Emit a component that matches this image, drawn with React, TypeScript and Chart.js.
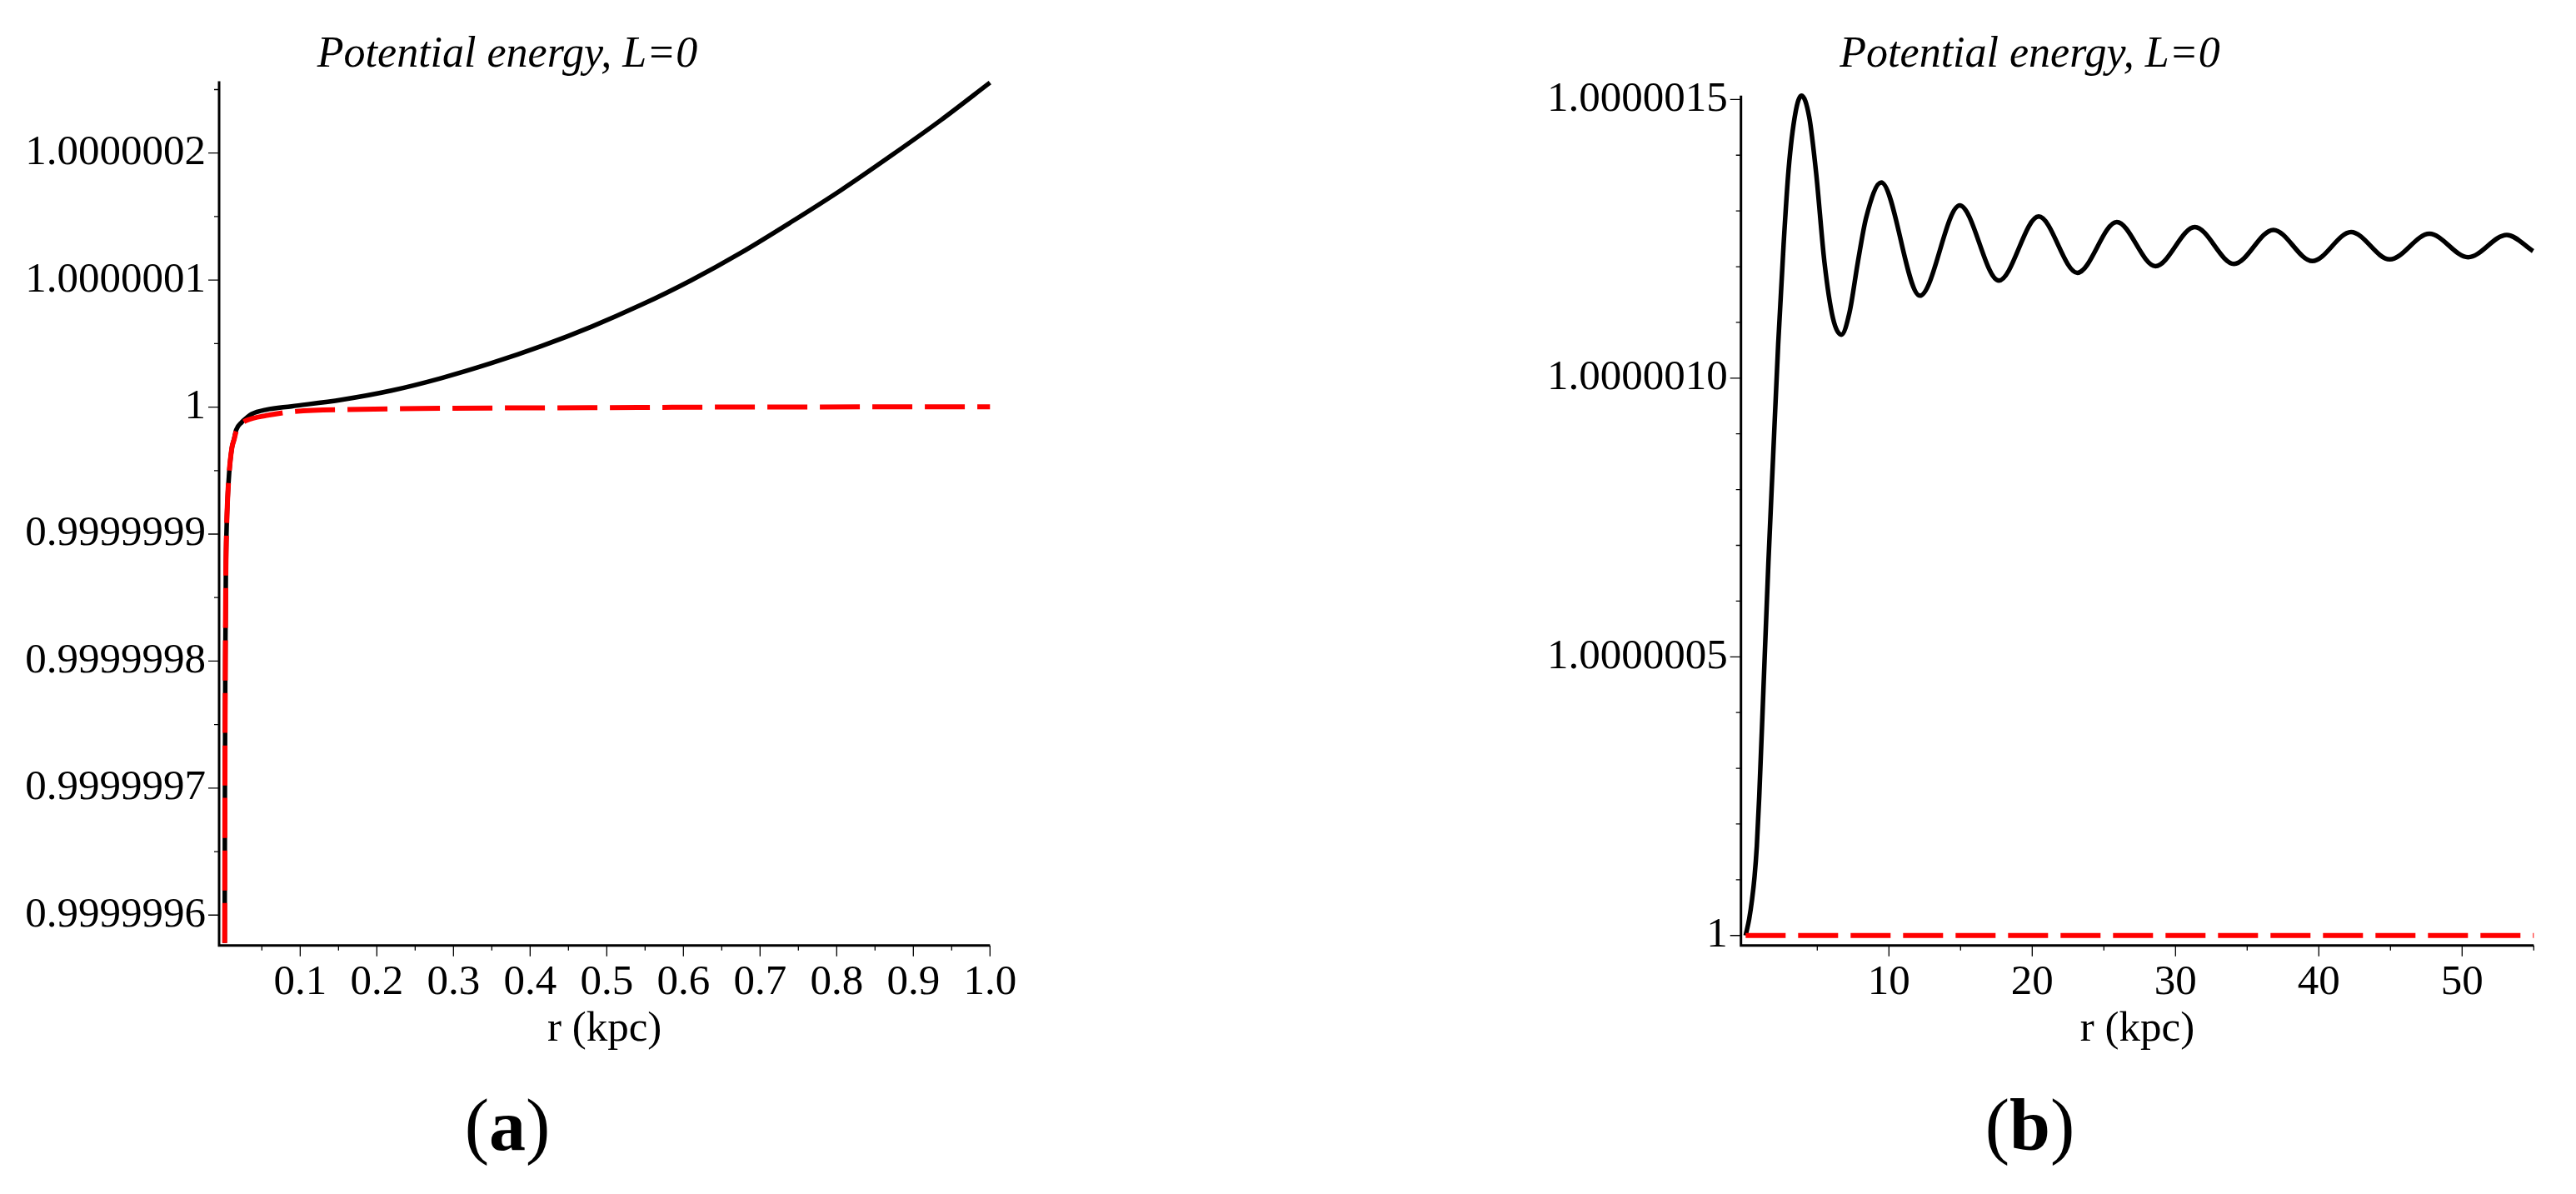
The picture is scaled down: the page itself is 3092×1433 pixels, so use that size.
import React, { useEffect, useRef } from 'react';
import { Chart, registerables } from 'chart.js';

Chart.register(...registerables);

const FONT = '"Liberation Serif", "Times New Roman", serif';

// ---------------- Panel (a) data ----------------
const rA_black = [0.0015, 0.0018, 0.0023, 0.003, 0.004, 0.005, 0.0073, 0.0109, 0.0138, 0.0165, 0.0236, 0.03, 0.0366, 0.056, 0.0887, 0.154, 0.219, 0.284, 0.349, 0.4146, 0.48, 0.545, 0.61, 0.675, 0.74, 0.806, 0.871, 0.936, 1.0];
const uA_black = [0.999999578, 0.9999997, 0.9999998, 0.99999987, 0.999999905, 0.999999924, 0.999999948, 0.999999968, 0.999999975, 0.999999982, 0.999999988, 0.9999999915, 0.9999999945, 0.999999998, 1.0000000006, 1.0000000058, 1.000000013, 1.0000000228, 1.0000000345, 1.000000048, 1.0000000633, 1.0000000805, 1.0000000998, 1.0000001215, 1.0000001455, 1.000000171, 1.000000198, 1.000000226, 1.0000002555];
const rA_red = [0.0015, 0.0018, 0.0023, 0.003, 0.004, 0.005, 0.0073, 0.0109, 0.0138, 0.0165, 0.0236, 0.03, 0.056, 0.089, 0.179, 0.299, 0.479, 0.658, 1.0];
const uA_red = [0.999999578, 0.9999997, 0.9999998, 0.99999987, 0.999999905, 0.999999924, 0.999999948, 0.999999968, 0.9999999745, 0.999999981, 0.999999987, 0.9999999895, 0.9999999934, 0.9999999963, 0.9999999982, 0.9999999991, 0.9999999995, 1.0, 1.0000000002];
const yTicksA = [0.9999996, 0.9999997, 0.9999998, 0.9999999, 1.0, 1.0000001, 1.0000002];
const yLabelsA = ['0.9999996', '0.9999997', '0.9999998', '0.9999999', '1', '1.0000001', '1.0000002'];
const yMinorA = [0.99999965, 0.99999975, 0.99999985, 0.99999995, 1.00000005, 1.00000015, 1.00000025];
const xTicksA = [0.1, 0.2, 0.3, 0.4, 0.5, 0.6, 0.7, 0.8, 0.9, 1.0];
const xLabelsA = ['0.1', '0.2', '0.3', '0.4', '0.5', '0.6', '0.7', '0.8', '0.9', '1.0'];
const xMinorA = [0.05, 0.15, 0.25, 0.35, 0.45, 0.55, 0.65, 0.75, 0.85, 0.95];

// ---------------- Panel (b) data ----------------
const rB_black = [0, 0.25, 0.45, 0.62, 0.78, 0.95, 1.24, 1.59, 1.92, 2.27, 2.65, 3.0, 3.47, 3.9, 4.44, 4.92, 5.5, 6.09, 6.68, 7.25, 7.83, 8.41, 9.46, 12.16, 14.94, 17.67, 20.45, 23.15, 25.9, 28.6, 31.35, 34.08, 36.83, 39.55, 42.25, 44.95, 47.72, 50.42, 53.12, 54.95];
const uB_black = [1.0, 1.00000003, 1.000000065, 1.000000105, 1.00000016, 1.00000025, 1.00000044, 1.00000067, 1.00000086, 1.00000106, 1.00000124, 1.000001375, 1.000001475, 1.000001507, 1.000001468, 1.000001368, 1.000001208, 1.000001108, 1.000001078, 1.000001118, 1.000001208, 1.000001288, 1.000001351, 1.000001148, 1.00000131, 1.000001175, 1.00000129, 1.000001189, 1.00000128, 1.000001201, 1.000001271, 1.000001205, 1.000001266, 1.00000121, 1.000001262, 1.000001213, 1.000001259, 1.000001217, 1.000001257, 1.000001228];
const rB_red = [0, 55];
const uB_red = [1.0, 1.0];
const yTicksB = [1.0, 1.0000005, 1.000001, 1.0000015];
const yLabelsB = ['1', '1.0000005', '1.0000010', '1.0000015'];
const yMinorB = [1.0000001, 1.0000002, 1.0000003, 1.0000004, 1.0000006, 1.0000007, 1.0000008, 1.0000009, 1.0000011, 1.0000012, 1.0000013, 1.0000014];
const xTicksB = [10, 20, 30, 40, 50];
const xLabelsB = ['10', '20', '30', '40', '50'];
const xMinorB = [5, 15, 25, 35, 45, 55];

const TITLE = 'Potential energy, L=0';
const X_TITLE = 'r (kpc)';

type Spec = {
  rBlack: number[]; uBlack: number[]; rRed: number[]; uRed: number[];
  yTicks: number[]; yLabels: string[]; yMinor: number[];
  xTicks: number[]; xLabels: string[]; xMinor: number[];
  xMin: number; xMax: number; yMin: number; yMax: number;
  yWidth: number; padTop: number; padRight: number;
  titleX: number; letter: string;
};

const specA: Spec = {
  rBlack: rA_black, uBlack: uA_black, rRed: rA_red, uRed: uA_red,
  yTicks: yTicksA, yLabels: yLabelsA, yMinor: yMinorA,
  xTicks: xTicksA, xLabels: xLabelsA, xMinor: xMinorA,
  xMin: -0.0058, xMax: 1.0, yMin: 0.9999995761, yMax: 1.0000002565,
  yWidth: 263, padTop: 97.6, padRight: 357.7,
  titleX: 609, letter: 'a',
};

const specB: Spec = {
  rBlack: rB_black, uBlack: uB_black, rRed: rB_red, uRed: uB_red,
  yTicks: yTicksB, yLabels: yLabelsB, yMinor: yMinorB,
  xTicks: xTicksB, xLabels: xLabelsB, xMinor: xMinorB,
  xMin: -0.326, xMax: 55, yMin: 0.9999999821, yMax: 1.000001507,
  yWidth: 543.7, padTop: 114.7, padRight: 50.7,
  titleX: 890.5, letter: 'b',
};

const CW = 1546;
const CH = 1433;

function Panel({ spec, left }: { spec: Spec; left: number }) {
  const ref = useRef<HTMLCanvasElement>(null);
  useEffect(() => {
    const canvas = ref.current;
    if (!canvas) return;
    const plugin = {
      id: 'mapleAxes',
      afterDraw(chart: any) {
        const ctx = chart.ctx as CanvasRenderingContext2D;
        const { left: l, right: r, top: t, bottom: b } = chart.chartArea;
        const xs = chart.scales.x;
        const ys = chart.scales.y;
        ctx.save();
        ctx.strokeStyle = '#000';
        ctx.lineCap = 'butt';
        ctx.lineWidth = 3;
        ctx.beginPath();
        ctx.moveTo(l, t);
        ctx.lineTo(l, b + 1.5);
        ctx.moveTo(l - 1.5, b);
        ctx.lineTo(r, b);
        ctx.stroke();
        ctx.lineWidth = 1.3;
        ctx.beginPath();
        spec.yTicks.forEach((v) => { const y = ys.getPixelForValue(v); ctx.moveTo(l - 13, y); ctx.lineTo(l, y); });
        spec.yMinor.forEach((v) => { const y = ys.getPixelForValue(v); ctx.moveTo(l - 6, y); ctx.lineTo(l, y); });
        spec.xTicks.forEach((v) => { const x = xs.getPixelForValue(v); ctx.moveTo(x, b); ctx.lineTo(x, b + 13); });
        spec.xMinor.forEach((v) => { const x = xs.getPixelForValue(v); ctx.moveTo(x, b); ctx.lineTo(x, b + 6); });
        ctx.stroke();

        ctx.fillStyle = '#000';
        ctx.textBaseline = 'alphabetic';
        ctx.textAlign = 'center';
        ctx.font = `italic 52px ${FONT}`;
        ctx.fillText(TITLE, spec.titleX, 80);

        ctx.textAlign = 'left';
        const reg = `88px ${FONT}`;
        const bold = `bold 88px ${FONT}`;
        ctx.font = reg;
        const w1 = ctx.measureText('(').width;
        const w3 = ctx.measureText(')').width;
        ctx.font = bold;
        const w2 = ctx.measureText(spec.letter).width;
        let x0 = spec.titleX - (w1 + w2 + w3) / 2;
        const base = 1380;
        ctx.font = reg;
        ctx.fillText('(', x0, base);
        x0 += w1;
        ctx.font = bold;
        ctx.fillText(spec.letter, x0, base);
        x0 += w2;
        ctx.font = reg;
        ctx.fillText(')', x0, base);
        ctx.restore();
      },
    };

    const chart = new Chart(canvas, {
      type: 'line',
      data: {
        datasets: [
          {
            data: spec.rRed.map((r, i) => ({ x: r, y: spec.uRed[i] })),
            borderColor: '#ff0000',
            borderWidth: 6,
            borderDash: [48, 15],
            borderCapStyle: 'butt',
            pointRadius: 0,
            cubicInterpolationMode: 'monotone',
            fill: false,
            clip: false,
          } as any,
          {
            data: spec.rBlack.map((r, i) => ({ x: r, y: spec.uBlack[i] })),
            borderColor: '#000000',
            borderWidth: 5.5,
            pointRadius: 0,
            cubicInterpolationMode: 'monotone',
            fill: false,
            clip: false,
          } as any,
        ],
      },
      options: {
        responsive: false,
        animation: false,
        events: [],
        layout: { padding: { left: 0, top: spec.padTop, right: spec.padRight, bottom: 166.6 } },
        plugins: {
          legend: { display: false },
          tooltip: { enabled: false },
          title: { display: false },
        },
        scales: {
          x: {
            type: 'linear',
            min: spec.xMin,
            max: spec.xMax,
            bounds: 'data',
            grid: { display: false, drawTicks: false },
            border: { display: false },
            afterBuildTicks: (s: any) => { s.ticks = spec.xTicks.map((v) => ({ value: v })); },
            afterFit: (s: any) => { s.height = 131.7; },
            ticks: {
              autoSkip: false,
              maxRotation: 0,
              minRotation: 0,
              padding: 14.2,
              color: '#000',
              font: { family: FONT, size: 51 },
              callback: (_v: any, i: number) => spec.xLabels[i],
            },
            title: {
              display: true,
              text: X_TITLE,
              color: '#000',
              font: { family: FONT, size: 51 },
              padding: 0,
            },
          },
          y: {
            type: 'linear',
            min: spec.yMin,
            max: spec.yMax,
            bounds: 'data',
            grid: { display: false, drawTicks: false },
            border: { display: false },
            afterBuildTicks: (s: any) => { s.ticks = spec.yTicks.map((v) => ({ value: v })); },
            afterFit: (s: any) => { s.width = spec.yWidth; },
            ticks: {
              autoSkip: false,
              padding: 16,
              color: '#000',
              font: { family: FONT, size: 51 },
              callback: (_v: any, i: number) => spec.yLabels[i],
            },
          },
        },
      } as any,
      plugins: [plugin],
    });
    return () => chart.destroy();
  }, [spec]);

  return (
    <canvas
      ref={ref}
      width={CW}
      height={CH}
      style={{ position: 'absolute', left, top: 0, width: CW, height: CH, display: 'block' }}
    />
  );
}

export default function App() {
  return (
    <div style={{ position: 'fixed', left: 0, top: 0, width: 3092, height: 1433, background: '#ffffff', overflow: 'hidden' }}>
      <Panel spec={specA} left={0} />
      <Panel spec={specB} left={1546} />
    </div>
  );
}
